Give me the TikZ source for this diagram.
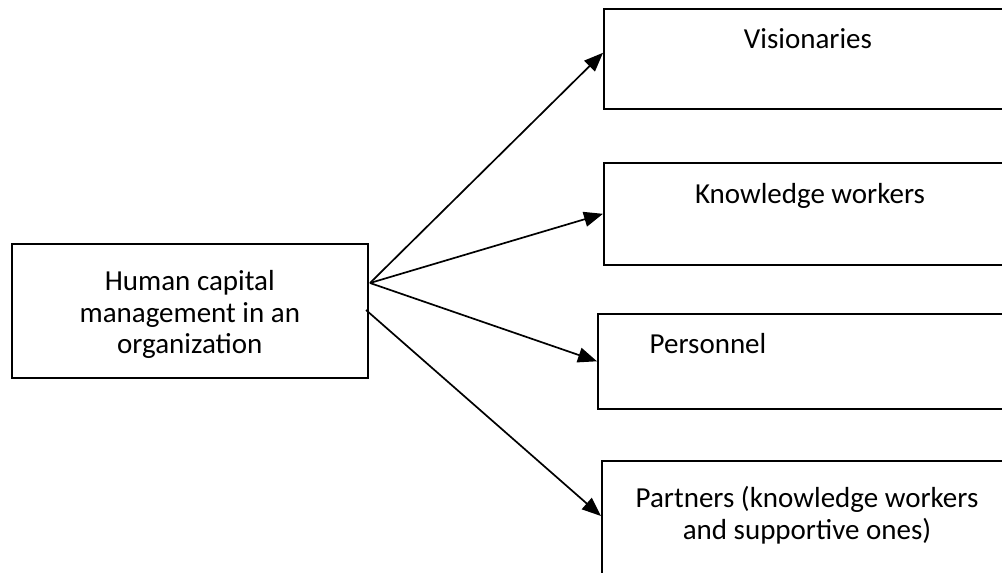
\documentclass[tikz,border=0pt]{standalone}
\usepackage{fontspec}
\setmainfont{Carlito}
\usetikzlibrary{arrows.meta}
\tikzset{
  box/.style={draw, line width=1.6pt, rectangle, inner sep=0pt, anchor=north west},
  rbox/.style={box, minimum width=410pt, minimum height=#1},
  lbl/.style={font=\fontsize{29}{31.5}\selectfont, align=center, inner sep=0pt},
  conn/.style={line width=1.7pt, -{Triangle[length=19pt,width=15pt]}}
}
\begin{document}
\begin{tikzpicture}[x=1pt,y=-1pt]
\useasboundingbox (0,0) rectangle (1002,573);
\clip (0,0) rectangle (1002,573);
% left box
\node[box, minimum width=356pt, minimum height=134pt] (hcm) at (11,243) {};
\node[lbl, yshift=-4pt] (hcmtxt) at (hcm.center) {Human capital\\management in an\\organization};
% right boxes
\node[rbox=100pt] (vis) at (603,8) {};
\node[rbox=102pt] (kw) at (603,162) {};
\node[rbox=95pt] (pers) at (597,313) {};
\node[rbox=130pt] (part) at (601,460) {};
\node[lbl, anchor=base] (vistxt) at (808,48) {Visionaries};
\node[lbl, anchor=base] (kwtxt) at (810,203) {Knowledge workers};
\node[lbl, anchor=base] (perstxt) at (708,353) {Personnel};
\node[lbl, anchor=base] (parttxt) at (807,539) {Partners (knowledge workers\\and supportive ones)};
% connector sources
\coordinate (s1) at (370,283);
\coordinate (s2) at (366,310);
\draw[conn] (s1) -- ([yshift=6pt]vis.west);
\draw[conn] (s1) -- (kw.west);
\draw[conn] (s1) -- (pers.west);
\draw[conn] (s2) -- ([yshift=-56pt]part.north west);
\end{tikzpicture}
\end{document}
